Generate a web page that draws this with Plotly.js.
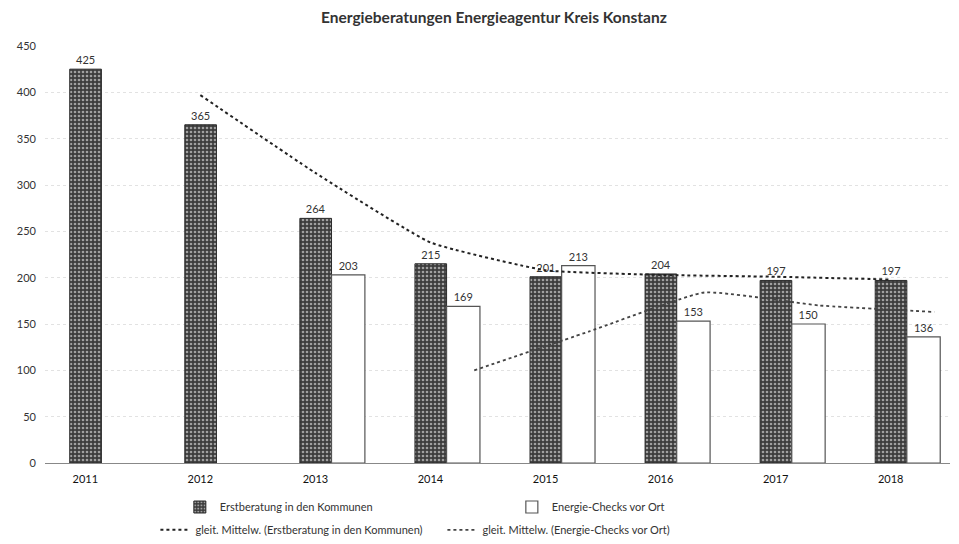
<!DOCTYPE html>
<html><head><meta charset="utf-8">
<script src="https://cdn.plot.ly/plotly-3.0.1.min.js"></script>
<style>html,body{margin:0;padding:0;background:#fff}</style>
</head><body>
<div id="chart" style="width:959px;height:544px"></div>
<script>
const years = [2011, 2012, 2013, 2014, 2015, 2016, 2017, 2018];
const erstberatung = [425, 365, 264, 215, 201, 204, 197, 197];
const checkYears = [2013, 2014, 2015, 2016, 2017, 2018];
const energieChecks = [203, 169, 213, 153, 150, 136];
// moving-average lines
const maErstYears = [2012, 2013, 2014, 2015, 2016, 2017, 2018];
const maErst = [397, 313, 238, 208, 203, 201, 198];
const maCheckYears = [2014.38, 2015.38, 2016.38, 2017.38, 2018.38];
const maCheck = [100, 142, 184, 170, 163];
const yTicks = [0, 50, 100, 150, 200, 250, 300, 350, 400, 450];

const F = 'Lato, "Open Sans", sans-serif';
const traces = [
  {type:'bar', name:'Erstberatung in den Kommunen', x:years, y:erstberatung,
   offset:-0.135, width:0.275,
   marker:{color:'#444', line:{color:'#2a2a2a', width:1},
     pattern:{shape:'.', bgcolor:'#3c3c3c', fgcolor:'#a0a0a0', size:4, solidity:0.35}},
   text:erstberatung.map(String), textposition:'outside', cliponaxis:false,
   textfont:{family:F, size:11, color:'#333'}, legend:'legend'},
  {type:'bar', name:'Energie-Checks vor Ort', x:checkYears, y:energieChecks,
   offset:0.14, width:0.29,
   marker:{color:'#ffffff', line:{color:'#555', width:1.2}},
   text:energieChecks.map(String), textposition:'outside', cliponaxis:false,
   textfont:{family:F, size:11, color:'#333'}, legend:'legend'},
  {type:'scatter', mode:'lines', name:'gleit. Mittelw. (Erstberatung in den Kommunen)',
   x:maErstYears, y:maErst, line:{color:'#222', width:2, dash:'dot', shape:'spline', smoothing:0.4},
   legend:'legend2'},
  {type:'scatter', mode:'lines', name:'gleit. Mittelw. (Energie-Checks vor Ort)',
   x:maCheckYears, y:maCheck, line:{color:'#444', width:1.8, dash:'dot', shape:'spline', smoothing:0.4},
   legend:'legend2'}
];

const layout = {
  width:959, height:544,
  margin:{l:45, r:9, t:46, b:81, autoexpand:false},
  paper_bgcolor:'#fff', plot_bgcolor:'#fff',
  font:{family:F, size:11, color:'#333'},
  title:{text:'<b>Energieberatungen Energieagentur Kreis Konstanz</b>',
    x:0.515, xanchor:'center', y:0.968, yanchor:'middle',
    font:{family:F, size:15.5, color:'#333'}},
  barmode:'overlay',
  xaxis:{type:'linear', range:[2010.65, 2018.515], tickvals:years, ticktext:years.map(String),
    showgrid:false, zeroline:false, showline:false, ticks:'', ticklabelstandoff:8, automargin:false,
    tickfont:{family:F, size:11, color:'#111'}},
  yaxis:{range:[0,450], tickvals:yTicks, showgrid:true, gridcolor:'#e2e2e2', griddash:'dot', gridwidth:1,
    zeroline:true, zerolinecolor:'#888', zerolinewidth:1, ticks:'', ticklabelstandoff:8, automargin:false,
    tickfont:{family:F, size:11, color:'#333'}},
  showlegend:true,
  legend:{orientation:'h', x:0.149, xanchor:'left', yref:'container', y:0.068, yanchor:'middle',
    entrywidth:287, font:{family:F, size:11, color:'#333'}, bgcolor:'rgba(0,0,0,0)'},
  legend2:{orientation:'h', x:0.122, xanchor:'left', yref:'container', y:0.026, yanchor:'middle',
    entrywidth:242, font:{family:F, size:11, color:'#333'}, bgcolor:'rgba(0,0,0,0)'}
};
Plotly.newPlot('chart', traces, layout, {displayModeBar:false, staticPlot:true});
</script>
</body></html>
